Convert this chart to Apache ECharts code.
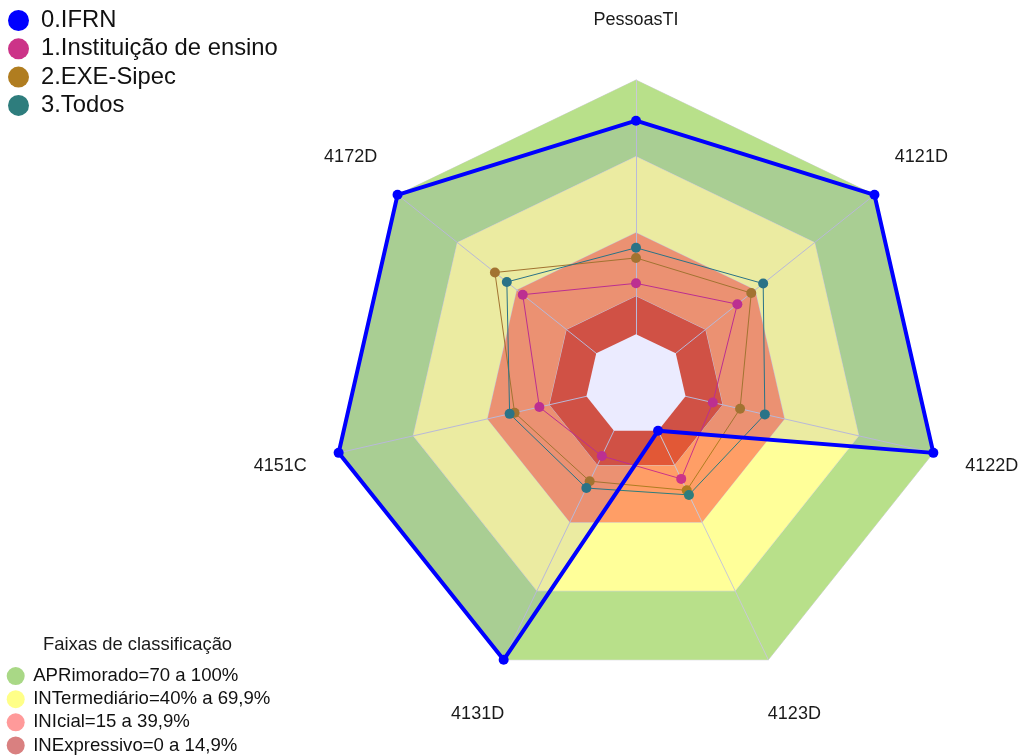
<!DOCTYPE html>
<html><head><meta charset="utf-8">
<script src="https://cdn.jsdelivr.net/npm/echarts@6/dist/echarts.min.js"></script>
<style>html,body{margin:0;padding:0;background:#fff}#c{width:1021px;height:756px}</style>
</head><body><div id="c"></div>
<script>
// Indicators, clockwise from the top
const categories = ['PessoasTI', '4121D', '4122D', '4123D', '4131D', '4151C', '4172D'];
const seriesNames = ['0.IFRN', '1.Instituição de ensino', '2.EXE-Sipec', '3.Todos'];
const ifrn        = [84, 100, 100, 0, 100, 100, 100];
const instituicao = [20, 31, 11, 21, 11, 19, 37];
const exeSipec    = [30, 38, 22, 26, 22, 29, 51];
const todos       = [34, 44, 32, 28, 25, 31, 45];
const bandTitle = 'Faixas de classificação';
const bandNames = ['APRimorado=70 a 100%', 'INTermediário=40% a 69,9%', 'INIcial=15 a 39,9%', 'INExpressivo=0 a 14,9%'];
const bandUpper = [100, 69.9, 39.9, 14.9];
const bandLower = 0;
const axisMin = -20, axisMax = 100;

// ECharts lays indicators counter-clockwise; reorder to draw them clockwise
const order = [0, 6, 5, 4, 3, 2, 1];
const reorder = a => order.map(i => a[i]);
const ff = "'Liberation Sans', Arial, sans-serif";
const bandArea = ['#b8e08a', '#ffff99', '#ff9e66', '#e25836'];
const bandIcon = ['#a9d886', '#ffff88', '#ff9a9a', '#d98080'];
const seriesColors = ['#0000ff', '#cc3388', '#b07d20', '#2e7d7d'];
const seriesData = [ifrn, instituicao, exeSipec, todos];

const chart = echarts.init(document.getElementById('c'), null, {renderer: 'canvas'});

const series = [];
series.push({
  type: 'radar', z: 1, silent: true,
  data: bandNames.map((n, i) => ({
    name: n,
    value: reorder(categories.map(() => bandUpper[i])),
    symbol: 'none',
    itemStyle: {color: bandIcon[i]},
    lineStyle: {color: '#d4d4dc', width: 1},
    areaStyle: {color: bandArea[i], opacity: 1}
  }))
});
series.push({
  type: 'radar', z: 3, silent: true,
  data: [{
    name: 'base',
    value: reorder(categories.map(() => bandLower)),
    symbol: 'none',
    itemStyle: {color: '#ffffff'},
    lineStyle: {width: 0, opacity: 0},
    areaStyle: {color: '#ffffff', opacity: 1}
  }]
});
seriesNames.forEach((n, i) => {
  const isMain = i === 0;
  series.push({
    type: 'radar', name: n, z: isMain ? 5 : 4,
    symbol: 'circle', symbolSize: 10,
    itemStyle: {color: seriesColors[i]},
    lineStyle: {color: seriesColors[i], width: isMain ? 4 : 1},
    areaStyle: isMain ? {color: 'rgba(0,0,255,0.11)'} : undefined,
    data: [{
      name: n,
      value: reorder(seriesData[i]),
      itemStyle: {color: seriesColors[i]},
      lineStyle: {color: seriesColors[i], width: isMain ? 4 : 1},
      areaStyle: isMain ? {color: 'rgba(0,0,255,0.11)'} : undefined
    }]
  });
});

const option = {
  animation: false,
  title: {
    text: bandTitle, left: 43, top: 636, padding: 0,
    textStyle: {fontFamily: ff, fontSize: 18.4, fontWeight: 'normal', color: '#1a1a1a'}
  },
  legend: [
    {
      data: seriesNames, orient: 'vertical', left: 8, top: 8.5, height: 130, icon: 'circle',
      itemWidth: 35, itemHeight: 21, itemGap: 4.3, padding: 0, selectedMode: false,
      itemStyle: {borderWidth: 0},
      textStyle: {fontFamily: ff, fontSize: 23.8, color: '#111'}
    },
    {
      data: bandNames, orient: 'vertical', left: 6.7, top: 666.6, height: 110, icon: 'circle',
      itemWidth: 25, itemHeight: 18, itemGap: 4.1, padding: 0, selectedMode: false,
      itemStyle: {borderWidth: 0},
      textStyle: {fontFamily: ff, fontSize: 18.6, color: '#111'}
    }
  ],
  radar: {
    center: [636, 385], radius: 305, startAngle: 90, z: 2,
    indicator: reorder(categories).map(n => ({name: n, min: axisMin, max: axisMax})),
    axisNameGap: 60,
    axisName: {color: '#1a1a1a', fontSize: 18, fontFamily: ff, align: 'center', verticalAlign: 'middle', padding: [4, 0, 0, 0]},
    splitLine: {show: false},
    splitArea: {show: false},
    axisLine: {lineStyle: {color: '#c9c9d6', width: 1}},
    axisLabel: {show: false},
    axisTick: {show: false}
  },
  series: series
};
chart.setOption(option);
</script>
</body></html>
